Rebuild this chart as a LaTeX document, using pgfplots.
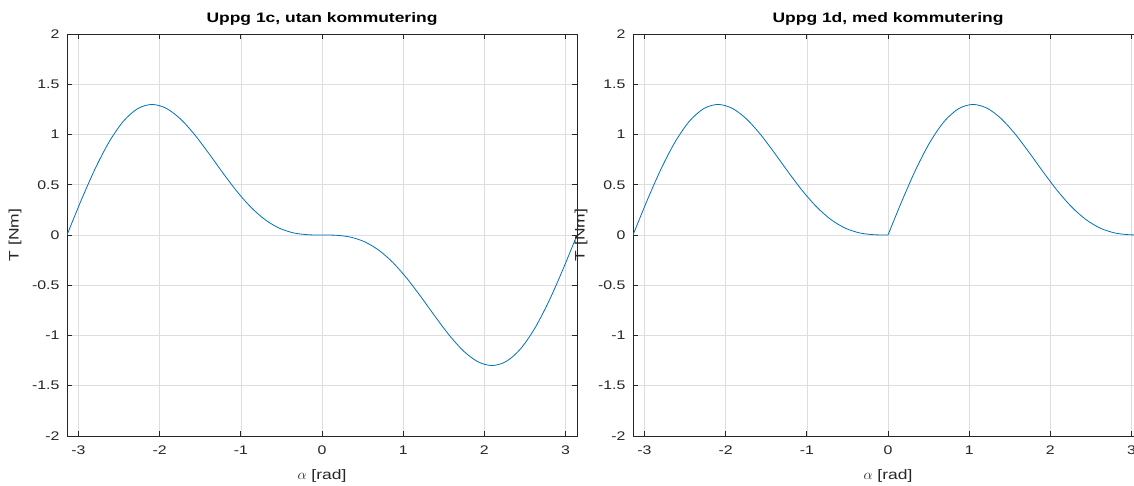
\documentclass[border=0pt]{standalone}
\usepackage{fontspec}
\setmainfont{Liberation Sans}[FakeStretch=1.27]
\usepackage{pgfplots}
\usepackage{pgfplotstable}
\pgfplotsset{compat=1.18}
\definecolor{mblue}{rgb}{0,0.447,0.741}
\definecolor{axgray}{rgb}{0.15,0.15,0.15}

\pgfplotstableread{
x y
-3.141593 0
-2.967060 0.344658
-2.792527 0.663414
-2.617994 0.933013
-2.443461 1.135192
-2.268928 1.258448
-2.094395 1.299038
-1.919862 1.261087
-1.745329 1.155818
-1.570796 1
-1.396263 0.813798
-1.221730 0.618299
-1.047198 0.433013
-0.872665 0.273640
-0.698132 0.150384
-0.523599 0.066987
-0.349066 0.020626
-0.174533 0.002638
0 0
0.174533 -0.002638
0.349066 -0.020626
0.523599 -0.066987
0.698132 -0.150384
0.872665 -0.273640
1.047198 -0.433013
1.221730 -0.618299
1.396263 -0.813798
1.570796 -1
1.745329 -1.155818
1.919862 -1.261087
2.094395 -1.299038
2.268928 -1.258448
2.443461 -1.135192
2.617994 -0.933013
2.792527 -0.663414
2.967060 -0.344658
3.141593 0
}\leftdata

\pgfplotstableread{
x y
-3.141593 0
-2.967060 0.344658
-2.792527 0.663414
-2.617994 0.933013
-2.443461 1.135192
-2.268928 1.258448
-2.094395 1.299038
-1.919862 1.261087
-1.745329 1.155818
-1.570796 1
-1.396263 0.813798
-1.221730 0.618299
-1.047198 0.433013
-0.872665 0.273640
-0.698132 0.150384
-0.523599 0.066987
-0.349066 0.020626
-0.174533 0.002638
0 0
}\rightneg

\pgfplotstableread{
x y
0 0
0.174533 0.344658
0.349066 0.663414
0.523599 0.933013
0.698132 1.135192
0.872665 1.258448
1.047198 1.299038
1.221730 1.261087
1.396263 1.155818
1.570796 1
1.745329 0.813798
1.919862 0.618299
2.094395 0.433013
2.268928 0.273640
2.443461 0.150384
2.617994 0.066987
2.792527 0.020626
2.967060 0.002638
3.141593 0
}\rightpos

\pgfplotsset{
  mstyle/.style={
    scale only axis, width=510pt, height=402pt,
    xmin=-3.141593, xmax=3.141593, ymin=-2, ymax=2,
    xtick={-3,-2,-1,0,1,2,3},
    xticklabels={-3,-2,-1,0,1,2,3},
    ytick={-2,-1.5,-1,-0.5,0,0.5,1,1.5,2},
    yticklabels={-2,-1.5,-1,-0.5,0,0.5,1,1.5,2},
    grid=major,
    major grid style={draw=black!13, line width=0.5pt},
    axis line style={draw=axgray, line width=0.7pt},
    tick style={draw=axgray, line width=0.7pt},
    major tick length=5pt,
    tick align=inside,
    ticklabel style={font=\fontsize{12.5}{14}\selectfont, text=axgray},
    xticklabel style={yshift=-6pt},
    yticklabel style={xshift=-4pt},
    xlabel={$\alpha$ [rad]},
    ylabel={T [Nm]},
    xlabel style={font=\fontsize{13.75}{15}\selectfont, text=axgray, at={(axis description cs:0.5,-0.1)}, anchor=center},
    ylabel style={font=\fontsize{13.75}{15}\selectfont, text=axgray, at={(axis description cs:-0.102,0.5)}, anchor=center},
    title style={font=\bfseries\fontsize{13.75}{15}\selectfont, at={(axis description cs:0.5,1.022)}, anchor=center},
  }
}

\begin{document}
\begin{tikzpicture}[x=1pt,y=1pt]
\begin{axis}[mstyle, at={(67pt,50pt)}, anchor=south west,
  title={Uppg 1c, utan kommutering}]
\addplot[mblue, line width=0.8pt, smooth, no marks] table[x=x,y=y] {\leftdata};
\end{axis}
\begin{axis}[mstyle, at={(633pt,50pt)}, anchor=south west,
  title={Uppg 1d, med kommutering}]
\addplot[mblue, line width=0.8pt, smooth, no marks] table[x=x,y=y] {\rightneg};
\addplot[mblue, line width=0.8pt, smooth, no marks] table[x=x,y=y] {\rightpos};
\end{axis}
\pgfresetboundingbox
\path[use as bounding box] (0,0) rectangle (1134,486);
\end{tikzpicture}
\end{document}
